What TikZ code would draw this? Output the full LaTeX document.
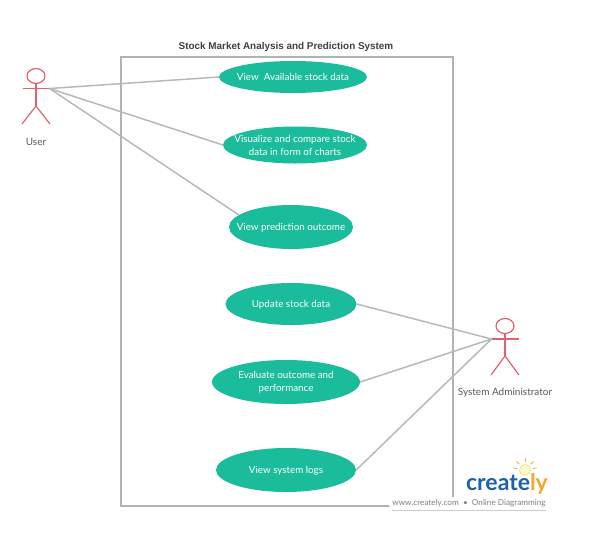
\documentclass[tikz,border=0pt]{standalone}
\usepackage{fontspec}
\setmainfont{Lato}
\newfontfamily\titlefont{Liberation Sans}
\usepackage{tikz}
\usetikzlibrary{shapes.geometric}
\definecolor{usecase}{RGB}{27,188,155}
\definecolor{actor}{RGB}{222,98,112}
\definecolor{wire}{RGB}{184,184,184}
\definecolor{logoblue}{RGB}{28,98,170}
\definecolor{logoorange}{RGB}{243,167,45}
\tikzset{
  usecasenode/.style={ellipse,fill=usecase,text=white,align=center,inner xsep=-40pt,inner ysep=-12pt,font=\fontsize{9.8}{13}\selectfont},
  actorline/.style={draw=actor,line width=1.2pt},
  wireline/.style={draw=wire,line width=1.5pt},
  actorlabel/.style={text=black!65,font=\fontsize{10}{12}\selectfont},
}

\begin{document}
\begin{tikzpicture}[x=1pt,y=-1pt]
      \useasboundingbox (0,0) rectangle (591,544);

      \node[inner sep=0pt,text=black!75,font=\titlefont\bfseries\fontsize{9.9}{12}\selectfont] (title) at (286,46.5) {Stock Market Analysis and Prediction System};
      \draw[draw=black!30,line width=1.5pt] (121,57) rectangle (453,506);

      \node[usecasenode,minimum width=148pt,minimum height=32pt,text height=9pt,text depth=2pt] (viewdata) at (293,77) {View\ \ Available stock data};
      \node[usecasenode,minimum width=144pt,minimum height=37pt] (charts) at (295,145) {Visualize and compare stock\\data in form of charts};
      \node[usecasenode,minimum width=124pt,minimum height=44pt,text height=9pt,text depth=2pt] (prediction) at (291,227) {View prediction outcome};
      \node[usecasenode,minimum width=131pt,minimum height=42pt,text height=9pt,text depth=2pt] (update) at (291,304) {Update stock data};
      \node[usecasenode,minimum width=148pt,minimum height=44pt] (evaluate) at (286,382) {Evaluate outcome and\\performance};
      \node[usecasenode,minimum width=140pt,minimum height=44pt,text height=9pt,text depth=2pt] (logs) at (286,470) {View system logs};

      % user
      \begin{scope}[shift={(36,76)}]
        \draw[actorline] (0,0) ellipse (9 and 7.5);
        \draw[actorline] (0,7.5) -- (0,30);
        \draw[actorline] (-13.5,12.5) -- (13.5,12.5);
        \draw[actorline] (-14,48) -- (0,30) -- (14,48);
        \coordinate (userhand) at (13.5,12.5);
      \end{scope}
      \node[actorlabel] (userlabel) at (36,141.5) {User};

      % admin
      \begin{scope}[shift={(505,326)}]
        \draw[actorline] (0,0) ellipse (9 and 7.5);
        \draw[actorline] (0,7.5) -- (0,30);
        \draw[actorline] (-13.5,13) -- (13.5,13);
        \draw[actorline] (-14,49) -- (0,30) -- (14,49);
        \coordinate (adminhand) at (-13.5,13);
      \end{scope}
      \node[actorlabel] (adminlabel) at (505,392.5) {System Administrator};

      \draw[wireline] (userhand) -- (viewdata.west);
      \draw[wireline] (userhand) -- (charts.west);
      \draw[wireline] (userhand) -- (prediction.167);
      \draw[wireline] (adminhand) -- (update.east);
      \draw[wireline] (adminhand) -- (evaluate.east);
      \draw[wireline] (adminhand) -- (logs.east);

      % logo
      \fill[white,rounded corners=1ex] (389,497) rectangle (548,510);
      \fill[white,rounded corners=1ex] (465,462) rectangle (550,500);
      \draw[black!20] (392,510) -- (546,510);
      \node[inner sep=0pt,text=black!50,font=\fontsize{8.2}{9}\selectfont] (weblabel) at (469,503) {www.creately.com\ \ •\ \ Online Diagramming};
      \node[inner sep=0pt,text=logoblue,font=\bfseries\fontsize{23}{28}\selectfont] (logotext) at (507,484) {create\textcolor{logoorange}{ly}};
      \draw[logoorange!70,fill=yellow!20] (525,470) circle (5.5);
      \foreach \ang in {-170,-135,-90,-45,-10}
        \draw[logoorange,line width=.8pt] (525,470) ++(\ang:8) -- ++(\ang:4);
\end{tikzpicture}
\end{document}
